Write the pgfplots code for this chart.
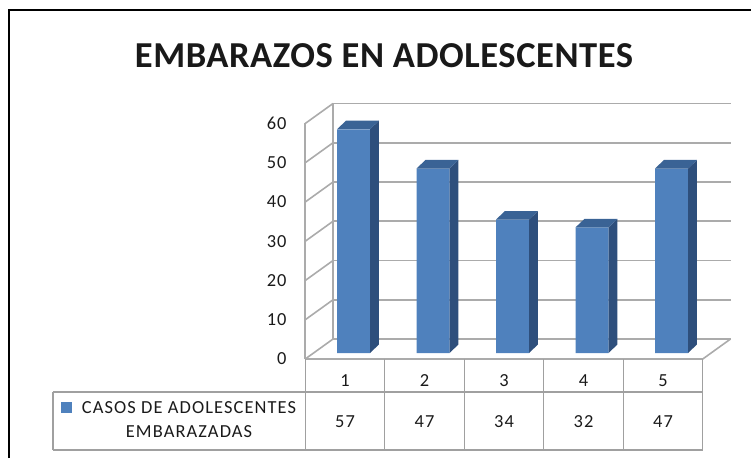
\documentclass[border=0pt]{standalone}
\usepackage{pgfplots}
\pgfplotsset{compat=1.18}
\usepackage{pgfplotstable}
\usepackage{fontspec}
\setmainfont{Carlito}
\newfontfamily\spaced{Carlito}[LetterSpace=6]
\newfontfamily\titlefont{Carlito}[LetterSpace=1.5]
\definecolor{barfront}{HTML}{4F81BD}
\definecolor{barside}{HTML}{2E4F7C}
\definecolor{bartop}{HTML}{3A6395}
\definecolor{gridc}{HTML}{ABABAB}
\definecolor{tablec}{HTML}{A0A0A0}
\definecolor{txt}{HTML}{1A1A1A}

\pgfplotstableread{
x v
1 57
2 47
3 34
4 32
5 47
}\datatable

\begin{document}
\begin{tikzpicture}
\useasboundingbox (0,0) rectangle (563.25pt,343.5pt);
\draw[line width=1.1pt] (6.75pt,0) -- (6.75pt,336pt) -- (563.25pt,336pt);
\node[font=\titlefont\bfseries\fontsize{27.4}{32}\selectfont, text=black!90] at (288pt,301.5pt) {EMBARAZOS EN ADOLESCENTES};
\begin{axis}[
  at={(228.94pt,74.25pt)}, anchor=south west,
  x=59.625pt, y=2.944pt,
  xmin=0.5, xmax=5.85, ymin=0, ymax=65.1,
  axis line style={draw=none},
  clip=false,
  xtick=\empty,
  ytick={0,10,...,60},
  major tick length=0pt,
  tick label style={font=\spaced\fontsize{13.8}{15}\selectfont, text=txt},
  yticklabel style={xshift=-10.5pt},
  /pgf/number format/assume math mode=true,
]
% back wall gridlines
\draw[gridc, line width=1.2pt] (axis cs:0.85,5.1) -- (axis cs:5.85,5.1);
\draw[gridc, line width=1.2pt] (axis cs:0.85,15.1) -- (axis cs:5.85,15.1);
\draw[gridc, line width=1.2pt] (axis cs:0.85,25.1) -- (axis cs:5.85,25.1);
\draw[gridc, line width=1.2pt] (axis cs:0.85,35.1) -- (axis cs:5.85,35.1);
\draw[gridc, line width=1.2pt] (axis cs:0.85,45.1) -- (axis cs:5.85,45.1);
\draw[gridc, line width=1.2pt] (axis cs:0.85,55.1) -- (axis cs:5.85,55.1);
\draw[gridc, line width=1.2pt] (axis cs:0.85,65.1) -- (axis cs:5.85,65.1);
% left wall
\draw[gridc, line width=1.2pt] (axis cs:0.5,0) -- (axis cs:0.85,5.1);
\draw[gridc, line width=1.2pt] (axis cs:0.5,10) -- (axis cs:0.85,15.1);
\draw[gridc, line width=1.2pt] (axis cs:0.5,20) -- (axis cs:0.85,25.1);
\draw[gridc, line width=1.2pt] (axis cs:0.5,30) -- (axis cs:0.85,35.1);
\draw[gridc, line width=1.2pt] (axis cs:0.5,40) -- (axis cs:0.85,45.1);
\draw[gridc, line width=1.2pt] (axis cs:0.5,50) -- (axis cs:0.85,55.1);
\draw[gridc, line width=1.2pt] (axis cs:0.5,60) -- (axis cs:0.85,65.1);
\draw[gridc, line width=1.2pt] (axis cs:0.5,0) -- (axis cs:0.5,60);
\draw[gridc, line width=1.2pt] (axis cs:0.85,5.1) -- (axis cs:0.85,65.1);
% floor
\draw[gridc, line width=1.2pt] (axis cs:0.5,0) -- (axis cs:5.5,0) -- (axis cs:5.85,5.1);
% table
\draw[tablec, line width=1pt] (axis cs:-2.673,-8.41) -- (axis cs:5.5,-8.41);
\draw[tablec, line width=1pt] (axis cs:-2.673,-23.18) -- (axis cs:5.5,-23.18);
\draw[tablec, line width=1pt] (axis cs:-2.673,-8.41) -- (axis cs:-2.673,-23.18);
\draw[tablec, line width=1pt] (axis cs:0.5,0) -- (axis cs:0.5,-23.18);
\draw[tablec, line width=1pt] (axis cs:1.5,0) -- (axis cs:1.5,-23.18);
\draw[tablec, line width=1pt] (axis cs:2.5,0) -- (axis cs:2.5,-23.18);
\draw[tablec, line width=1pt] (axis cs:3.5,0) -- (axis cs:3.5,-23.18);
\draw[tablec, line width=1pt] (axis cs:4.5,0) -- (axis cs:4.5,-23.18);
\draw[tablec, line width=1pt] (axis cs:5.5,0) -- (axis cs:5.5,-23.18);
% bars: front faces
\addplot[ybar, bar width=0.415, bar shift=0.107, fill=barfront, draw=none, yshift=4.5pt] table[x=x, y=v] {\datatable};
% side faces
\addplot[fill=barside, draw=none] coordinates {(1.3145,1.53) (1.3145,58.53) (1.4275,60.70) (1.4275,3.70)};
\addplot[fill=barside, draw=none] coordinates {(2.3145,1.53) (2.3145,48.53) (2.4275,50.70) (2.4275,3.70)};
\addplot[fill=barside, draw=none] coordinates {(3.3145,1.53) (3.3145,35.53) (3.4275,37.70) (3.4275,3.70)};
\addplot[fill=barside, draw=none] coordinates {(4.3145,1.53) (4.3145,33.53) (4.4275,35.70) (4.4275,3.70)};
\addplot[fill=barside, draw=none] coordinates {(5.3145,1.53) (5.3145,48.53) (5.4275,50.70) (5.4275,3.70)};
% top faces
\addplot[fill=bartop, draw=none] coordinates {(0.8995,58.53) (1.3145,58.53) (1.4275,60.70) (1.0125,60.70)};
\addplot[fill=bartop, draw=none] coordinates {(1.8995,48.53) (2.3145,48.53) (2.4275,50.70) (2.0125,50.70)};
\addplot[fill=bartop, draw=none] coordinates {(2.8995,35.53) (3.3145,35.53) (3.4275,37.70) (3.0125,37.70)};
\addplot[fill=bartop, draw=none] coordinates {(3.8995,33.53) (4.3145,33.53) (4.4275,35.70) (4.0125,35.70)};
\addplot[fill=bartop, draw=none] coordinates {(4.8995,48.53) (5.3145,48.53) (5.4275,50.70) (5.0125,50.70)};
% table header (category numbers) and values
\addplot[only marks, mark=*, mark size=0pt, mark options={draw=none, fill=none},
  point meta=x, nodes near coords, nodes near coords align={center},
  every node near coord/.append style={anchor=center, font=\spaced\fontsize{13.8}{15}\selectfont, text=txt}]
  table[x=x, y expr=-5.6] {\datatable};
\addplot[only marks, mark=*, mark size=0pt, mark options={draw=none, fill=none},
  point meta=explicit, nodes near coords, nodes near coords align={center},
  every node near coord/.append style={anchor=center, font=\spaced\fontsize{13.8}{15}\selectfont, text=txt}]
  table[x=x, y expr=-16.05, meta=v] {\datatable};
% legend key of the table
\fill[barfront] (axis cs:-2.503,-12.36) ++(-4.1pt,-4.1pt) rectangle ++(8.2pt,8.2pt);
\node[align=center, font=\spaced\fontsize{13.8}{18}\selectfont, text=txt] at (axis cs:-0.962,-15.54) {CASOS DE ADOLESCENTES\\EMBARAZADAS};
\end{axis}
\end{tikzpicture}
\end{document}
